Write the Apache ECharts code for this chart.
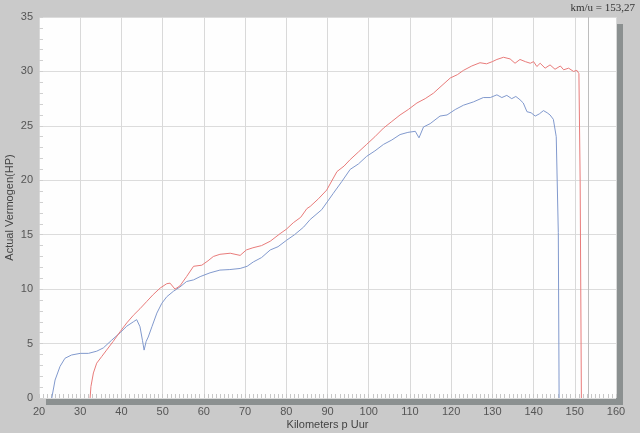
<!DOCTYPE html>
<html>
<head>
<meta charset="utf-8">
<script src="https://cdn.jsdelivr.net/npm/echarts@6/dist/echarts.min.js"></script>
<style>
html,body{margin:0;padding:0;background:#cacaca;}
#chart{width:640px;height:433px;}
</style>
</head>
<body>
<div id="chart"></div>
<script>
const xTicks = {min: 20, max: 160, interval: 10};
const yTicks = {min: 0, max: 35, interval: 5};
const maxSpeed = 153.27;
const maxSpeedLabel = 'km/u = 153,27';
const xTitle = 'Kilometers p Uur';
const yTitle = 'Actual Vermogen(HP)';

const blueX = [23.1, 23.9, 25.1, 26.3, 27.9, 30.0, 32.0, 32.4, 34.0, 35.6, 37.6, 39.7, 41.3, 42.9, 43.7, 44.1, 44.5, 45.1, 45.5, 46.0, 46.5, 47.4, 48.6, 49.8, 51.0, 52.6, 54.2, 55.8, 57.5, 59.1, 61.5, 63.9, 66.3, 68.8, 70.5, 72.0, 74.0, 76.1, 78.0, 80.1, 82.0, 84.2, 85.8, 88.6, 91.4, 93.5, 95.5, 97.5, 99.5, 101.5, 103.6, 105.6, 107.6, 109.5, 111.3, 112.2, 113.3, 114.9, 117.3, 119.0, 121.0, 123.0, 125.4, 127.8, 129.5, 131.1, 132.3, 133.5, 134.7, 135.7, 136.7, 137.5, 138.4, 139.4, 140.4, 141.4, 142.4, 143.3, 144.0, 144.8, 145.5, 146.0, 146.2];
const blueY = [0, 1.65, 2.9, 3.65, 3.95, 4.1, 4.1, 4.0, 4.3, 4.6, 5.3, 6.0, 6.6, 7.0, 7.2, 7.15, 6.55, 5.3, 4.4, 5.2, 5.6, 6.55, 7.8, 8.7, 9.3, 9.8, 10.2, 10.7, 10.85, 11.15, 11.5, 11.75, 11.8, 11.9, 12.1, 12.5, 12.9, 13.6, 13.9, 14.5, 15.0, 15.7, 16.4, 17.3, 18.8, 19.9, 21.0, 21.5, 22.2, 22.7, 23.3, 23.7, 24.2, 24.4, 24.5, 23.9, 24.9, 25.2, 25.9, 26.0, 26.5, 26.9, 27.2, 27.6, 27.6, 27.85, 27.6, 27.8, 27.5, 27.7, 27.4, 27.1, 26.3, 26.2, 25.9, 26.1, 26.4, 26.2, 26.0, 25.6, 24.0, 15.2, 0];

const redX = [32.4, 32.6, 33.2, 34.0, 35.2, 36.4, 38.0, 39.7, 41.3, 42.9, 44.5, 46.1, 47.7, 49.4, 51.0, 51.8, 53.0, 54.2, 55.8, 57.5, 59.5, 61.0, 62.3, 63.9, 66.4, 68.8, 70.3, 71.9, 74.0, 76.1, 78.5, 80.0, 81.7, 83.5, 85.0, 85.8, 87.8, 89.8, 92.3, 94.0, 95.5, 97.5, 99.5, 101.5, 103.6, 105.6, 107.6, 109.6, 111.7, 113.7, 115.7, 117.3, 119.8, 121.5, 123.0, 125.0, 127.0, 128.6, 130.0, 131.1, 132.7, 134.3, 135.5, 136.7, 138.0, 139.2, 140.0, 140.8, 141.6, 142.8, 144.0, 145.2, 146.5, 147.3, 148.5, 149.7, 150.5, 151.0, 151.3, 151.6];
const redY = [0, 1.05, 2.3, 3.2, 3.8, 4.4, 5.2, 6.1, 6.9, 7.6, 8.2, 8.85, 9.5, 10.1, 10.5, 10.55, 10.0, 10.3, 11.15, 12.1, 12.2, 12.6, 13.0, 13.2, 13.3, 13.1, 13.6, 13.8, 14.0, 14.4, 15.1, 15.5, 16.1, 16.6, 17.4, 17.6, 18.3, 19.1, 20.8, 21.3, 21.9, 22.6, 23.3, 24.0, 24.8, 25.4, 26.0, 26.5, 27.1, 27.5, 28.0, 28.55, 29.4, 29.7, 30.1, 30.5, 30.8, 30.7, 30.9, 31.1, 31.3, 31.15, 30.75, 31.1, 30.9, 30.75, 30.9, 30.45, 30.75, 30.3, 30.6, 30.2, 30.5, 30.15, 30.3, 30.0, 30.1, 29.8, 20, 0];

const zip = (xs, ys) => xs.map((x, i) => [x, ys[i]]);

const chart = echarts.init(document.getElementById('chart'), null, {renderer: 'canvas'});
const font = "'Liberation Sans', Arial, sans-serif";
chart.setOption({
  animation: false,
  backgroundColor: '#cacaca',
  grid: {
    left: 39, top: 17, width: 577, height: 381,
    containLabel: false, outerBoundsMode: 'none',
    show: true, backgroundColor: '#fefefe', borderWidth: 0,
    shadowColor: '#8b9090', shadowBlur: 0, shadowOffsetX: 7, shadowOffsetY: 7
  },
  graphic: [{
    type: 'text', right: 5, top: 3,
    style: {text: maxSpeedLabel, font: "11px 'Liberation Serif', 'Times New Roman', serif", fill: '#333'}
  }],
  xAxis: {
    type: 'value', min: xTicks.min, max: xTicks.max, interval: xTicks.interval,
    name: xTitle, nameLocation: 'middle', nameGap: 21, nameMoveOverlap: false,
    nameTextStyle: {color: '#444', fontFamily: font, fontSize: 11},
    axisLine: {show: false},
    axisTick: {show: true, inside: true, length: 4, lineStyle: {color: '#c8c8c8'}},
    minorTick: {show: true, splitNumber: 10, length: 4, lineStyle: {color: '#c8c8c8'}},
    axisLabel: {color: '#555', fontFamily: font, fontSize: 11, margin: 8},
    splitLine: {show: true, lineStyle: {color: '#d9d9d9', width: 1}}
  },
  yAxis: {
    type: 'value', min: yTicks.min, max: yTicks.max, interval: yTicks.interval,
    name: yTitle, nameLocation: 'middle', nameGap: 24, nameMoveOverlap: false,
    nameTextStyle: {color: '#444', fontFamily: font, fontSize: 11},
    axisLine: {show: false},
    axisTick: {show: true, inside: true, length: 4, lineStyle: {color: '#d0d0d0'}},
    minorTick: {show: true, splitNumber: 5, length: 4, lineStyle: {color: '#d0d0d0'}},
    axisLabel: {color: '#555', fontFamily: font, fontSize: 11, margin: 6},
    splitLine: {show: true, lineStyle: {color: '#dcdcdc', width: 1}}
  },
  series: [
    {
      type: 'line', data: zip(blueX, blueY), showSymbol: false, smooth: false,
      lineStyle: {color: '#8199cd', width: 1}, itemStyle: {color: '#8199cd'}
    },
    {
      type: 'line', data: zip(redX, redY), showSymbol: false, smooth: false,
      lineStyle: {color: '#e87b7a', width: 1}, itemStyle: {color: '#e87b7a'},
      markLine: {
        silent: true, symbol: 'none', label: {show: false},
        lineStyle: {color: '#bdbdbd', type: 'solid', width: 1},
        data: [{xAxis: maxSpeed}]
      }
    }
  ]
});
</script>
</body>
</html>
